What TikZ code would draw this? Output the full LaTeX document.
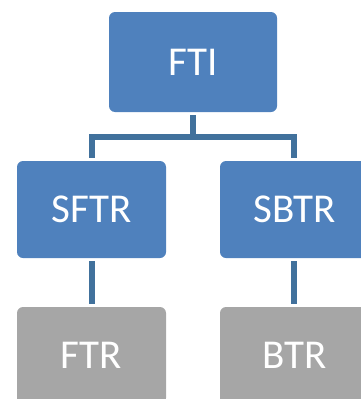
\documentclass[tikz,border=0pt]{standalone}
\usepackage{fontspec}
\setmainfont{Carlito}
\usepackage{tikz}
\usetikzlibrary{positioning,calc}

\definecolor{boxblue}{HTML}{4F81BD}
\definecolor{boxgray}{HTML}{A6A6A6}
\definecolor{linkblue}{HTML}{41719C}

\begin{document}
\begin{tikzpicture}[
    x=1pt, y=-1pt,
    font=\fontsize{41}{48}\selectfont,
    level/.style={rectangle, rounded corners=6pt, fill=boxblue, text=white,
        minimum width=149pt, minimum height=97pt, inner sep=0pt},
    leaf/.style={level, fill=boxgray},
    link/.style={draw=linkblue, line width=6pt}
]

% Page frame (boxes on the right and bottom run off the edge)
\useasboundingbox (0,0) rectangle (361,399);
\clip (0,0) rectangle (361,399);

% Top level
\node [level, minimum width=168pt, minimum height=100pt] (fti) at (193,62) {FTI};

% Second level
\node [level] (sftr) at (91.5,209.5) {SFTR};
\node [level] (sbtr) at (294.5,209.5) {SBTR};

% Third level
\node [leaf] (ftr) at (91.5,355.5) {FTR};
\node [leaf] (btr) at (294.5,355.5) {BTR};

% Branch point
\coordinate (split) at (193,137);

% Connecting lines
\draw [link, shorten <=3pt] (fti.south) -- (split);
\draw [link, shorten >=3pt] (split) -| (sftr.north);
\draw [link, shorten >=3pt] (split) -| ([xshift=-1pt]sbtr.north);
\draw [link, shorten <=3pt, shorten >=3pt] (sftr.south) -- (ftr.north);
\draw [link, shorten <=3pt, shorten >=3pt] ([xshift=-1pt]sbtr.south) -- ([xshift=-1pt]btr.north);

\end{tikzpicture}
\end{document}
